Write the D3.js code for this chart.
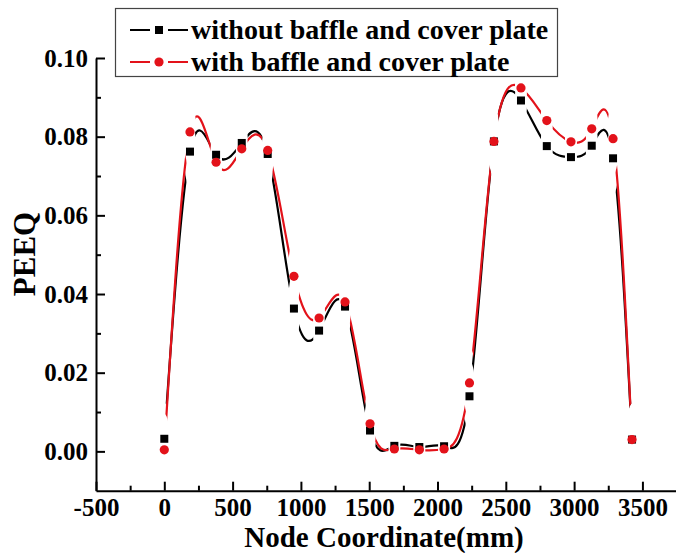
<!DOCTYPE html>
<html><head><meta charset="utf-8">
<script src="https://cdn.jsdelivr.net/npm/d3@7/dist/d3.min.js"></script>
<style>
html,body{margin:0;padding:0;background:#fff;}
svg{display:block;}
text{font-family:"Liberation Serif","Times New Roman",serif;font-weight:bold;fill:#000;}
</style></head>
<body>
<svg id="chart" width="676" height="553"></svg>
<script>
// ---- data ----
const nodeX = [0, 188, 379, 567, 757, 949, 1133, 1323, 1506, 1684, 1867, 2048, 2234, 2413, 2611, 2800, 2977, 3129, 3285, 3424];
const withoutBaffle = [0.0032, 0.0762, 0.0754, 0.0784, 0.0756, 0.0363, 0.0307, 0.0368, 0.0053, 0.0014, 0.0011, 0.0013, 0.0140, 0.0788, 0.0892, 0.0776, 0.0748, 0.0777, 0.0745, 0.0030];
const withBaffle = [0.0004, 0.0812, 0.0735, 0.0769, 0.0765, 0.0445, 0.0339, 0.0380, 0.0070, 0.0006, 0.0004, 0.0006, 0.0174, 0.0788, 0.0924, 0.0841, 0.0787, 0.0820, 0.0795, 0.0030];
const seriesNames = ["without baffle and cover plate", "with baffle and cover plate"];
const xTicks = [-500, 0, 500, 1000, 1500, 2000, 2500, 3000, 3500];
const xMinorTicks = [-250, 250, 750, 1250, 1750, 2250, 2750, 3250, 3750];
const yTicks = [0.00, 0.02, 0.04, 0.06, 0.08, 0.10];
const yMinorTicks = [0.01, 0.03, 0.05, 0.07, 0.09];
const xTitle = "Node Coordinate(mm)";
const yTitle = "PEEQ";

const svg = d3.select("#chart");
const x = d3.scaleLinear().domain([-500, 3800]).range([96, 683.4]);
const y = d3.scaleLinear().domain([-0.01, 0.10]).range([490.7, 58]);

const colors = ["#000000", "#e3121a"];
const series = [withoutBaffle, withBaffle];

// masks for line gaps around symbols
const defs = svg.append("defs");
series.forEach((vals, si) => {
  const m = defs.append("mask").attr("id", "gap" + si).attr("maskUnits", "userSpaceOnUse")
    .attr("x", 0).attr("y", 0).attr("width", 676).attr("height", 553);
  m.append("rect").attr("width", 676).attr("height", 553).attr("fill", "#fff");
  m.selectAll("ellipse").data(vals).join("ellipse")
    .attr("cx", (d, i) => x(nodeX[i])).attr("cy", d => y(d))
    .attr("rx", 6).attr("ry", 36).attr("fill", "#000");
});

const line = d3.line().x((d, i) => x(nodeX[i])).y(d => y(d)).curve(d3.curveNatural);

series.forEach((vals, si) => {
  svg.append("path").datum(vals).attr("d", line)
    .attr("fill", "none").attr("stroke", colors[si]).attr("stroke-width", 2.2)
    .attr("mask", "url(#gap" + si + ")");
  if (si === 0) {
    svg.append("g").selectAll("rect").data(vals).join("rect")
      .attr("x", (d, i) => x(nodeX[i]) - 4).attr("y", d => y(d) - 4)
      .attr("width", 8).attr("height", 8).attr("fill", colors[0]);
  } else {
    svg.append("g").selectAll("circle").data(vals).join("circle")
      .attr("cx", (d, i) => x(nodeX[i])).attr("cy", d => y(d))
      .attr("r", 4.6).attr("fill", colors[1]);
  }
});

// axes
const xFmt = d => String(d);
const xAxis = svg.append("g").attr("transform", "translate(0," + y(-0.01) + ")")
  .call(d3.axisBottom(x).tickValues(xTicks).tickSize(-9).tickSizeOuter(0).tickPadding(8).tickFormat(xFmt));
const xMinor = svg.append("g").attr("transform", "translate(0," + y(-0.01) + ")")
  .call(d3.axisBottom(x).tickValues(xMinorTicks).tickSize(-5).tickSizeOuter(0).tickFormat(""));
const yAxis = svg.append("g").attr("transform", "translate(" + x(-500) + ",0)")
  .call(d3.axisLeft(y).tickValues(yTicks).tickSize(-9).tickSizeOuter(0).tickPadding(8).tickFormat(d3.format(".2f")));
const yMinor = svg.append("g").attr("transform", "translate(" + x(-500) + ",0)")
  .call(d3.axisLeft(y).tickValues(yMinorTicks).tickSize(-5).tickSizeOuter(0).tickFormat(""));
[xAxis, xMinor, yAxis, yMinor].forEach(g => {
  g.selectAll("path, line").attr("stroke", "#000").attr("stroke-width", 2);
  g.selectAll("text").attr("font-family", "Liberation Serif, serif").attr("font-weight", "bold")
    .attr("font-size", 25).attr("fill", "#000");
});
xMinor.select(".domain").remove();
yMinor.select(".domain").remove();

svg.append("text").attr("x", 384).attr("y", 547).attr("text-anchor", "middle")
  .attr("font-size", 29).text(xTitle);
svg.append("text").attr("transform", "translate(35,254) rotate(-90)").attr("text-anchor", "middle")
  .attr("font-size", 31).text(yTitle);

// legend
const lg = svg.append("g");
lg.append("rect").attr("x", 115.5).attr("y", 8.5).attr("width", 442).attr("height", 68)
  .attr("fill", "#fff").attr("stroke", "#444").attr("stroke-width", 1.2);
seriesNames.forEach((name, i) => {
  const cy = 30 + i * 32;
  lg.append("line").attr("x1", 130).attr("x2", 188).attr("y1", cy).attr("y2", cy)
    .attr("stroke", colors[i]).attr("stroke-width", 2.2);
  lg.append("rect").attr("x", 150).attr("y", cy - 7).attr("width", 18).attr("height", 14).attr("fill", "#fff");
  if (i === 0) lg.append("rect").attr("x", 155).attr("y", cy - 4).attr("width", 8).attr("height", 8).attr("fill", colors[0]);
  else lg.append("circle").attr("cx", 159).attr("cy", cy).attr("r", 4.6).attr("fill", colors[1]);
  lg.append("text").attr("x", 191).attr("y", cy + 9).attr("font-size", 28).text(name);
});
</script>
</body></html>
